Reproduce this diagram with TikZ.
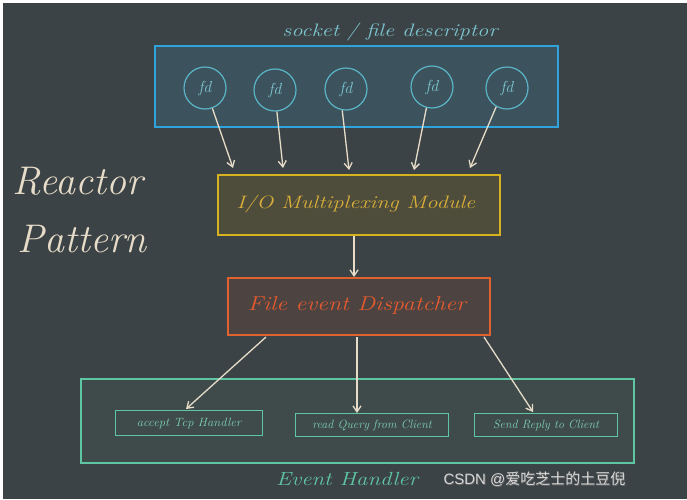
\documentclass[tikz,border=0pt]{standalone}
\usepackage{fontspec}
\newfontfamily\cjk{Noto Sans CJK SC}
\newfontfamily\wmfont{Liberation Sans}
\usetikzlibrary{arrows.meta}
\definecolor{bg}{HTML}{3C4346}
\definecolor{fdblue}{HTML}{2EA3DC}
\definecolor{fdfill}{HTML}{3C535D}
\definecolor{fdcirc}{HTML}{5BB5C8}
\definecolor{fdtext}{HTML}{7CC5D0}
\definecolor{chalk}{HTML}{E6DCC8}
\definecolor{ioline}{HTML}{D6B21E}
\definecolor{iofill}{HTML}{4E4C3B}
\definecolor{iotext}{HTML}{D9AE3A}
\definecolor{dline}{HTML}{E0622E}
\definecolor{dfill}{HTML}{4D4441}
\definecolor{dtext}{HTML}{E65A30}
\definecolor{teal}{HTML}{5FC6A3}
\definecolor{tealfill}{HTML}{3F4B4B}
\definecolor{tealtext}{HTML}{7DD0B0}
\definecolor{wm}{HTML}{D8D8D8}
\tikzset{
  fdnode/.style={circle, draw=fdcirc, line width=1.2pt, minimum size=42pt, inner sep=0pt, text=fdtext, font=\itshape\fontsize{16}{16}\selectfont},
  chalkarrow/.style={draw=chalk, line width=1.3pt, -{Straight Barb[length=6pt,width=8pt]}},
  bigbox/.style={draw, line width=1.5pt, inner sep=0pt, anchor=north west},
  handbox/.style={draw=teal, line width=1.2pt, inner sep=0pt, anchor=north west},
  handtext/.style={text=tealtext, font=\itshape\fontsize{12}{12}\selectfont}
}
\begin{document}
\begin{tikzpicture}[x=1pt,y=-1pt]
\useasboundingbox (0,0) rectangle (687,499);
\fill[white] (0,0) rectangle (687,499);
\fill[bg] (3,3) rectangle (687,499);

% top: socket / file descriptor
\node[text=fdtext, font=\itshape\fontsize{18}{18}\selectfont] (ttl) at (390,32) {\scalebox{1.25}[1]{socket / file descriptor}};
\node[bigbox, draw=fdblue, fill=fdfill, minimum width=403pt, minimum height=81pt] (sock) at (154,45) {};
\node[fdnode] (fd1) at (205,88) {fd};
\node[fdnode] (fd2) at (275,90) {fd};
\node[fdnode] (fd3) at (346,89) {fd};
\node[fdnode] (fd4) at (432,87) {fd};
\node[fdnode] (fd5) at (507,88) {fd};

% I/O multiplexing
\node[bigbox, draw=ioline, fill=iofill, minimum width=282pt, minimum height=60pt] (io) at (217,174) {};
\node[text=iotext, font=\itshape\fontsize{18}{18}\selectfont] (iot) at (356,204) {\scalebox{1.25}[1]{I/O Multiplexing Module}};

\coordinate (a1) at (233,168);
\coordinate (a2) at (283,168);
\coordinate (a3) at (349,170);
\coordinate (a4) at (414,170);
\coordinate (a5) at (470,168);
\draw[chalkarrow] (fd1.290) -- (a1);
\draw[chalkarrow] (fd2.275) -- (a2);
\draw[chalkarrow] (fd3.260) -- (a3);
\draw[chalkarrow] (fd4.255) -- (a4);
\draw[chalkarrow] (fd5.240) -- (a5);

% dispatcher
\node[bigbox, draw=dline, fill=dfill, minimum width=262pt, minimum height=57pt] (disp) at (227,277) {};
\node[text=dtext, font=\itshape\fontsize{20}{20}\selectfont] (dispt) at (357,305) {\scalebox{1.2}[1]{File event Dispatcher}};
\draw[chalkarrow] (io.south -| 354,0) -- (disp.north -| 354,0);

% event handler
\node[bigbox, draw=teal, fill=tealfill, minimum width=553pt, minimum height=84pt] (eh) at (80,378) {};
\node[handbox, minimum width=147pt, minimum height=25pt] (h1) at (115,410) {};
\node[handtext] (h1t) at (h1.center) {\scalebox{1.05}[1]{accept Tcp Handler}};
\node[handbox, minimum width=153pt, minimum height=23pt] (h2) at (295,413) {};
\node[handtext] (h2t) at (h2.center) {read Query from Client};
\node[handbox, minimum width=143pt, minimum height=23pt] (h3) at (474,413) {};
\node[handtext] (h3t) at (h3.center) {Send Reply to Client};

\coordinate (d1) at (266,337);
\coordinate (d2) at (357,337);
\coordinate (d3) at (484,337);
\coordinate (e1) at (186,409);
\coordinate (e3) at (533,412);
\draw[chalkarrow] (d1) -- (e1);
\draw[chalkarrow] (d2) -- (h2.north -| d2);
\draw[chalkarrow] (d3) -- (e3);

\node[text=teal, font=\itshape\fontsize{19}{19}\selectfont] (eht) at (347,479) {\scalebox{1.2}[1]{Event Handler}};

% Reactor Pattern
\node[text=chalk, font=\itshape\fontsize{40}{40}\selectfont] (r1) at (78,181) {Reactor};
\node[text=chalk, font=\itshape\fontsize{40}{40}\selectfont] (r2) at (82,239) {Pattern};

% watermark
\node[text=black!60, anchor=west, font=\fontsize{15}{15}\selectfont] (wms) at (440.8,479.8) {\wmfont CSDN @\cjk 爱吃芝士的土豆倪};
\node[text=wm, anchor=west, font=\fontsize{15}{15}\selectfont] (wmk) at (440,479) {\wmfont CSDN @\cjk 爱吃芝士的土豆倪};
\end{tikzpicture}
\end{document}
